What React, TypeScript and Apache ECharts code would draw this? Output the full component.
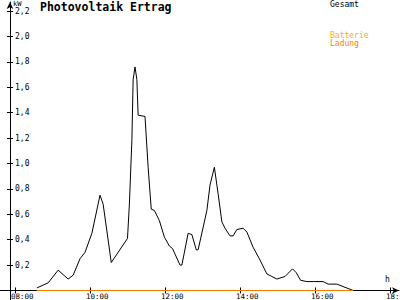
import React, { useEffect, useRef } from "react";
import * as echarts from "echarts";

const times = [
  "08:35", "08:53", "09:09", "09:25", "09:33", "09:44", "09:52", "10:03", "10:16", "10:21",
  "10:34", "11:00", "11:03", "11:07", "11:09", "11:12", "11:15", "11:17", "11:28", "11:33",
  "11:38", "11:43", "11:51", "11:59", "12:07", "12:12", "12:24", "12:27", "12:37", "12:43",
  "12:50", "12:53", "13:07", "13:12", "13:19", "13:25", "13:31", "13:36", "13:44", "13:49",
  "13:55", "14:05", "14:11", "14:21", "14:32", "14:43", "14:51", "14:59", "15:12", "15:24",
  "15:30", "15:37", "15:47", "15:57", "16:13", "16:21", "16:35", "17:01",
];
const gesamt = [
  0.02, 0.06, 0.16, 0.09, 0.12, 0.25, 0.3, 0.45, 0.75, 0.68,
  0.22, 0.41, 0.68, 1.18, 1.66, 1.76, 1.66, 1.38, 1.37, 0.97,
  0.64, 0.63, 0.55, 0.42, 0.35, 0.33, 0.2, 0.2, 0.45, 0.44,
  0.32, 0.32, 0.63, 0.83, 0.97, 0.76, 0.54, 0.49, 0.43, 0.43,
  0.48, 0.49, 0.46, 0.34, 0.24, 0.13, 0.11, 0.09, 0.11, 0.17,
  0.14, 0.08, 0.07, 0.07, 0.07, 0.05, 0.05, 0.0,
];
const ladungTimes = ["08:35", "17:01"];
const ladung = [0, 0];
const xTicks = [8, 10, 12, 14, 16, 18];
const yTicks = [0.2, 0.4, 0.6, 0.8, 1.0, 1.2, 1.4, 1.6, 1.8, 2.0, 2.2];

const toHours = (s: string) => {
  const [h, m] = s.split(":").map(Number);
  return h + m / 60;
};

const MONO = "DejaVu Sans Mono";
const X_MIN = 7.6;
const X_MAX = 18.24;
const Y_MIN = -0.075;
const Y_MAX = 2.271;

export default function App() {
  const ref = useRef<HTMLDivElement>(null);
  useEffect(() => {
    if (!ref.current) return;
    const chart = echarts.init(ref.current, null, { renderer: "svg" });
    const fmtX = (v: number) => String(Math.round(v)).padStart(2, "0") + ":00";
    const fmtY = (v: number) => v.toFixed(1).replace(".", ",");
    chart.setOption({
      animation: false,
      backgroundColor: "#ffffff",
      grid: { left: 0, right: 1, top: 2, bottom: 0, containLabel: false, outerBoundsMode: "none" },
      xAxis: [
        {
          type: "value",
          min: X_MIN,
          max: X_MAX,
          position: "bottom",
          axisLine: {
            onZero: true,
            onZeroAxisIndex: 0,
            lineStyle: { color: "#000", width: 1 },
            symbol: ["none", "arrow"],
            symbolSize: [5, 7],
          },
          axisTick: { show: true, customValues: xTicks, length: 3, lineStyle: { color: "#000" } },
          axisLabel: {
            customValues: xTicks,
            formatter: fmtX,
            fontFamily: MONO,
            fontSize: 7.5,
            lineHeight: 8,
            color: "#000",
            align: "left",
            padding: [0, 0, 0, -4],
            margin: -8,
          },
          splitLine: { show: false },
        },
        {
          type: "value",
          min: X_MIN,
          max: X_MAX,
          position: "top",
          axisLine: { show: false, onZero: true, onZeroAxisIndex: 1 },
          axisTick: { show: true, customValues: xTicks, length: 3, lineStyle: { color: "#000" } },
          axisLabel: { show: false },
          splitLine: { show: false },
        },
      ],
      yAxis: [
        {
          type: "value",
          min: Y_MIN,
          max: Y_MAX,
          position: "left",
          offset: -10,
          axisLine: {
            onZero: false,
            lineStyle: { color: "#000", width: 1 },
            symbol: ["none", "arrow"],
            symbolSize: [5, 7],
          },
          axisTick: { show: true, customValues: yTicks, length: 3, lineStyle: { color: "#000" } },
          axisLabel: {
            customValues: yTicks,
            inside: true,
            formatter: fmtY,
            fontFamily: MONO,
            fontSize: 8,
            color: "#000",
            margin: 5,
          },
          splitLine: { show: false },
        },
        {
          type: "value",
          min: Y_MIN,
          max: Y_MAX,
          position: "right",
          offset: -389,
          axisLine: { show: false, onZero: false },
          axisTick: { show: true, customValues: yTicks, length: 3, lineStyle: { color: "#000" } },
          axisLabel: { show: false },
          splitLine: { show: false },
        },
      ],
      series: [
        {
          name: "Gesamt",
          type: "line",
          xAxisIndex: 0,
          yAxisIndex: 0,
          data: times.map((t, i) => [toHours(t), gesamt[i]]),
          showSymbol: false,
          lineStyle: { color: "#000", width: 1 },
          itemStyle: { color: "#000" },
        },
        {
          name: "Ladung",
          type: "line",
          xAxisIndex: 0,
          yAxisIndex: 0,
          data: ladungTimes.map((t, i) => [toHours(t), ladung[i]]),
          showSymbol: false,
          lineStyle: { color: "#ff8000", width: 1 },
          itemStyle: { color: "#ff8000" },
          z: 5,
        },
      ],
      graphic: [
        {
          type: "text",
          left: 40,
          top: 1,
          style: { text: "Photovoltaik Ertrag", fontFamily: MONO, fontWeight: "bold", fontSize: 11.5, fill: "#000" },
        },
        {
          type: "text",
          left: 330,
          top: 0,
          style: { text: "Gesamt", fontFamily: MONO, fontSize: 8, fill: "#000" },
        },
        {
          type: "text",
          left: 330,
          top: 31,
          style: { text: "Batterie", fontFamily: MONO, fontSize: 8, fill: "#ffb000" },
        },
        {
          type: "text",
          left: 330,
          top: 39,
          style: { text: "Ladung", fontFamily: MONO, fontSize: 8, fill: "#ff8000" },
        },
        {
          type: "text",
          left: 13,
          top: 0,
          style: { text: "kW", fontFamily: MONO, fontSize: 7, fill: "#000" },
        },
        {
          type: "text",
          left: 385,
          top: 275,
          style: { text: "h", fontFamily: MONO, fontSize: 8, fill: "#000" },
        },
      ],
    });
    return () => chart.dispose();
  }, []);
  return (
    <div
      ref={ref}
      style={{ position: "absolute", left: 0, top: 0, width: 400, height: 300, background: "#fff" }}
    />
  );
}
